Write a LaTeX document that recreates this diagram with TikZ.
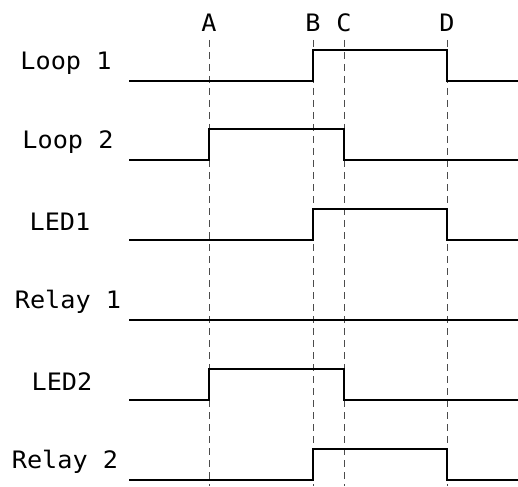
\documentclass[tikz,border=0pt]{standalone}
\usepackage{fontspec}
\setmonofont[FakeStretch=1.05]{DejaVu Sans Mono}

\begin{document}
\begin{tikzpicture}[x=1pt,y=-1pt,font=\ttfamily\fontsize{24}{24}\selectfont]
	\tikzset{wave/.style={line width=2.8pt,line join=miter},
		tick/.style={gray!60!black,line width=1pt,dash pattern=on 7pt off 5pt},
		lbl/.style={inner sep=0pt,anchor=center}}
	\useasboundingbox (0,0) rectangle (518,486);
	\coordinate (bottom) at (0,486);
	\coordinate (top) at (0,40);

	\node[lbl] (A) at (209,23) {A};
	\node[lbl] (B) at (313,23) {B};
	\node[lbl] (C) at (344,23) {C};
	\node[lbl] (D) at (447,23) {D};
	\draw[tick] (A |- top) -- (A |- bottom);
	\draw[tick] (B |- top) -- (B |- bottom);
	\draw[tick] (C |- top) -- (C |- bottom);
	\draw[tick] (D |- top) -- (D |- bottom);

	\node[lbl] (loop1) at (66,63) {Loop 1};
	\node[lbl] (loop2) at (68,142) {Loop 2};
	\node[lbl] (led1) at (60,222) {LED1};
	\node[lbl] (relay1) at (68,302) {Relay 1};
	\node[lbl] (led2) at (62,382) {LED2};
	\node[lbl] (relay2) at (65,462) {Relay 2};

	\draw[wave] (129,81) -- (313,81) -- (313,50) -- (447,50) -- (447,81) -- (518,81);
	\draw[wave] (129,160) -- (209,160) -- (209,129) -- (344,129) -- (344,160) -- (518,160);
	\draw[wave] (129,240) -- (313,240) -- (313,209) -- (447,209) -- (447,240) -- (518,240);
	\draw[wave] (129,320) -- (518,320);
	\draw[wave] (129,400) -- (209,400) -- (209,369) -- (344,369) -- (344,400) -- (518,400);
	\draw[wave] (129,480) -- (313,480) -- (313,449) -- (447,449) -- (447,480) -- (518,480);
\end{tikzpicture}
\end{document}
